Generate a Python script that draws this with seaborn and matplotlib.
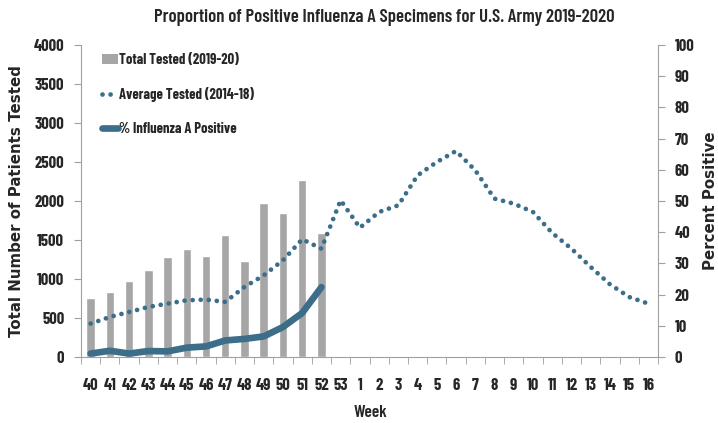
import numpy as np
import pandas as pd
import matplotlib
matplotlib.use("Agg")
import matplotlib.pyplot as plt
import seaborn as sns
from matplotlib.lines import Line2D
from matplotlib.patches import Patch

weeks = ["40", "41", "42", "43", "44", "45", "46", "47", "48", "49", "50", "51", "52", "53",
         "1", "2", "3", "4", "5", "6", "7", "8", "9", "10", "11", "12", "13", "14", "15", "16"]
total_tested = [760, 837, 974, 1115, 1286, 1385, 1295, 1568, 1235, 1975, 1846, 2269, 1585]
avg_tested = [428, 513, 577, 641, 684, 727, 736, 706, 898, 1047, 1240, 1509, 1389, 2009,
              1658, 1859, 1945, 2329, 2500, 2641, 2393, 2030, 1966, 1859, 1590, 1389, 1154,
              932, 769, 684]
pct_positive = [1.1, 2.0, 1.1, 1.9, 1.8, 3.0, 3.4, 5.3, 5.8, 6.6, 9.6, 14.1, 22.4]

sns.set_style("white")
NARROW = ["Barlow Condensed", "DejaVu Sans"]
WIDE = ["DejaVu Sans"]
plt.rcParams["font.family"] = NARROW

fig = plt.figure(figsize=(7.18, 4.23), dpi=100)
ax = fig.add_axes([81 / 718, 1 - 357 / 423, (658 - 81) / 718, (357 - 45) / 423])

bar_df = pd.DataFrame({"week": weeks[:len(total_tested)], "tested": total_tested})
sns.barplot(data=bar_df, x="week", y="tested", order=weeks, color="#A6A6A6",
            saturation=1, width=0.44, ax=ax)

line_color = "#3C6E8A"
avg_df = pd.DataFrame({"pos": np.arange(len(weeks)), "avg": avg_tested})
sns.lineplot(data=avg_df, x="pos", y="avg", ax=ax, color=line_color, linewidth=3.4)
ax.lines[-1].set_linestyle((0, (0.01, 1.7)))
ax.lines[-1].set_dash_capstyle("round")

ax2 = ax.twinx()
pct_df = pd.DataFrame({"pos": np.arange(len(pct_positive)), "pct": pct_positive})
sns.lineplot(data=pct_df, x="pos", y="pct", ax=ax2, color=line_color, linewidth=4.8)
ax2.lines[-1].set_solid_capstyle("round")

ax.set_xlim(-0.5, len(weeks) - 0.5)
ax.set_ylim(0, 4000)
ax2.set_ylim(0, 100)
ax.set_yticks(np.arange(0, 4001, 500))
ax2.set_yticks(np.arange(0, 101, 10))

ax.set_xticks(np.arange(len(weeks)))
ax.set_xticklabels(weeks)
ax.set_xticks(np.arange(-0.5, len(weeks) - 0.4, 1), minor=True)

spine_c = "#A0A0A0"
for a in (ax, ax2):
    for s in a.spines.values():
        s.set_visible(False)
ax.spines["left"].set_visible(True)
ax.spines["left"].set_color(spine_c)
ax.spines["bottom"].set_visible(True)
ax.spines["bottom"].set_color(spine_c)
ax2.spines["right"].set_visible(True)
ax2.spines["right"].set_color(spine_c)

ax.tick_params(axis="x", which="major", length=0, pad=15)
ax.tick_params(axis="x", which="minor", length=5, color=spine_c, direction="out", bottom=True)
ax.tick_params(axis="y", length=5, color=spine_c, direction="out", left=True, pad=7)
ax2.tick_params(axis="y", length=5, color=spine_c, direction="out", right=True, pad=7)
for lab in ax.get_xticklabels() + ax.get_yticklabels() + ax2.get_yticklabels():
    lab.set_fontfamily(NARROW)
    lab.set_fontweight("bold")
    lab.set_fontsize(12)

ax.set_xlabel("Week", fontfamily=NARROW, fontweight="semibold", fontsize=12.5)
ax.xaxis.set_label_coords((370 - 81) / (658 - 81), -(405 - 357) / (357 - 45))
ax.set_ylabel("Total Number of Patients Tested", fontfamily=WIDE,
              fontweight="bold", fontsize=10.8)
ax.yaxis.set_label_coords(-(81 - 24) / (658 - 81), 0.5)
ax2.set_ylabel("Percent Positive", fontfamily=WIDE, fontweight="bold", fontsize=10.8)
ax2.yaxis.set_label_coords(1 + (703 - 658) / (658 - 81), 0.5)

fig.text(384 / 718, 1 - 17 / 423,
         "Proportion of Positive Influenza A Specimens for U.S. Army 2019-2020",
         ha="center", va="center", fontfamily=NARROW, fontweight="semibold", fontsize=13.5)

handles = [
    Patch(facecolor="#A6A6A6", edgecolor="none"),
    Line2D([0], [0], color=line_color, linewidth=3.4, linestyle=(0, (0.01, 1.7)),
           dash_capstyle="round"),
    Line2D([0], [0], color=line_color, linewidth=4.8, solid_capstyle="round"),
]
labels = ["Total Tested (2019-20)", "Average Tested (2014-18)", "% Influenza A Positive"]
leg = ax.legend(handles, labels, loc="upper left", bbox_to_anchor=(0.014, 1.015),
                frameon=False, labelspacing=1.35, handlelength=1.1, handletextpad=0.05,
                prop=dict(family=NARROW, weight="bold", size=10.5))

fig.savefig("out.png", dpi=100)
